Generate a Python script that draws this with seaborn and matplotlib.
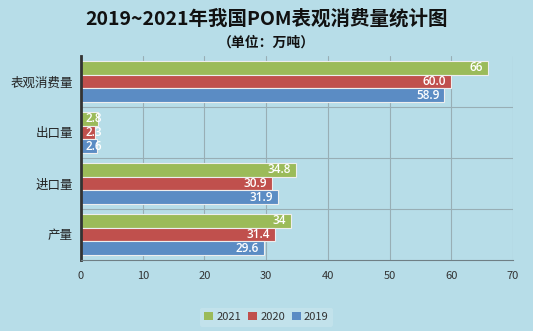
import matplotlib
matplotlib.use("Agg")
import matplotlib.pyplot as plt
import seaborn as sns
import pandas as pd
from matplotlib.patches import Patch

categories = ["表观消费量", "出口量", "进口量", "产量"]
years = ["2021", "2020", "2019"]
v2021 = [66, 2.8, 34.8, 34]
v2020 = [60.0, 2.3, 30.9, 31.4]
v2019 = [58.9, 2.6, 31.9, 29.6]
l2021 = ["66", "2.8", "34.8", "34"]
l2020 = ["60.0", "2.3", "30.9", "31.4"]
l2019 = ["58.9", "2.6", "31.9", "29.6"]
colors = ["#9BBB59", "#C0504D", "#5B8CC4"]
bg = "#B7DDE8"

rows = []
for yr, vals, labs in zip(years, [v2021, v2020, v2019], [l2021, l2020, l2019]):
    for c, v, l in zip(categories, vals, labs):
        rows.append({"cat": c, "year": yr, "value": v, "label": l})
df = pd.DataFrame(rows)

sns.set_theme(style="white")
plt.rcParams["font.family"] = ["Noto Sans CJK SC", "DejaVu Sans"]

fig = plt.figure(figsize=(5.33, 3.31), dpi=100, facecolor=bg)
ax = fig.add_axes([81/533, 1-260/331, (513-81)/533, (260-56)/331])
ax.set_facecolor(bg)

sns.barplot(data=df, y="cat", x="value", hue="year", hue_order=years,
            order=categories, palette=colors, orient="h", width=0.82,
            edgecolor="#EEEEEE", linewidth=0.8, ax=ax, legend=False,
            errorbar=None, saturation=1)

ax.set_xlim(0, 70)
ax.set_xticks(range(0, 71, 10))
ax.set_ylim(3.5, -0.5)
ax.set_yticks([0, 1, 2, 3])
ax.set_yticklabels(categories, fontsize=9, color="#222222")
ax.tick_params(axis="x", labelsize=8, colors="#333333", length=0, pad=8)
ax.tick_params(axis="y", length=0, pad=6)
ax.set_xlabel("")
ax.set_ylabel("")

# grid
for x in range(10, 71, 10):
    ax.axvline(x, color="#98AEB5", lw=0.8, zorder=0)
for y in [0.5, 1.5, 2.5]:
    ax.axhline(y, color="#98AEB5", lw=0.8, zorder=0)
for s in ["top", "right"]:
    ax.spines[s].set_visible(False)
ax.spines["bottom"].set_color("#6F7F85")
ax.spines["bottom"].set_linewidth(0.8)
ax.spines["left"].set_color("#333333")
ax.spines["left"].set_linewidth(2)

# labels
for cont, yr in zip(ax.containers, years):
    sub = df[df.year == yr].set_index("cat").loc[categories]
    for bar, lab, v in zip(cont, sub["label"], sub["value"]):
        xpos = max(v, 4.2) - 0.8
        ax.text(xpos, bar.get_y() + bar.get_height()/2, lab, ha="right",
                va="center", color="white", fontsize=8.5, fontweight="semibold",
                family=["Open Sans", "DejaVu Sans"])

fig.text(0.5, 1-19/331, "2019~2021年我国POM表观消费量统计图", ha="center",
         va="center", fontsize=14, fontweight="bold", color="#111111")
fig.text(0.5, 1-43/331, "（单位：万吨）", ha="center", va="center",
         fontsize=10, fontweight="bold", color="#111111")

handles = [Patch(facecolor=c, edgecolor="none", label=y) for c, y in zip(colors, years)]
leg = fig.legend(handles=handles, loc="center", bbox_to_anchor=(0.5, 1-317/331),
                 ncol=3, frameon=True, fontsize=8, handlelength=0.8, handleheight=0.8,
                 handletextpad=0.3, columnspacing=0.6, borderpad=0.4)
leg.get_frame().set_facecolor("#C5E4EC")
leg.get_frame().set_edgecolor("none")
for t in leg.get_texts():
    t.set_color("#333333")

fig.savefig("out.png", dpi=100, facecolor=bg)
